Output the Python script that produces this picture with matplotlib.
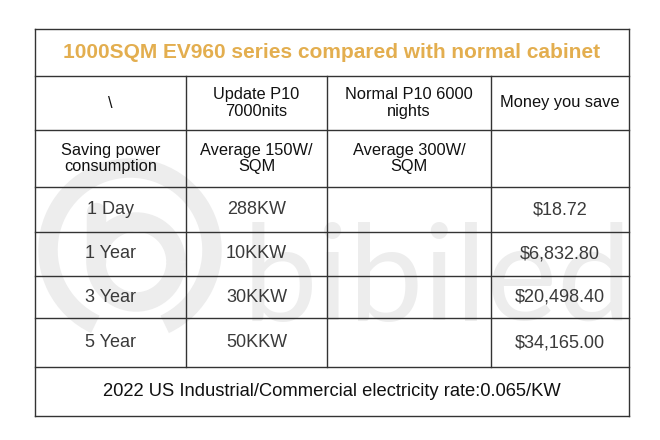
import matplotlib.pyplot as plt
from matplotlib.patches import Arc

plt.rcParams['font.family'] = ['Liberation Sans', 'DejaVu Sans']

title = "1000SQM EV960 series compared with normal cabinet"
header = ["\\", "Update P10\n7000nits", "Normal P10 6000\nnights", "Money you save"]
sub_header = ["Saving power\nconsumption", "Average 150W/\nSQM", "Average 300W/\nSQM", ""]
periods = ["1 Day", "1 Year", "3 Year", "5 Year"]
update_power = ["288KW", "10KKW", "30KKW", "50KKW"]
normal_power = ["", "", "", ""]
money_saved = ["$18.72", "$6,832.80", "$20,498.40", "$34,165.00"]
footer = "2022 US Industrial/Commercial electricity rate:0.065/KW"

# layout (pixels)
col_x = [35, 186, 327, 491, 629]
row_y = [29, 76, 130, 187, 232, 276, 318, 367, 416]

fig = plt.figure(figsize=(6.6, 4.4), dpi=100)
ax = fig.add_axes([0, 0, 1, 1])
ax.set_xlim(0, 660)
ax.set_ylim(440, 0)
ax.axis("off")

# watermark
wm = "#ededed"
ax.add_patch(Arc((130, 250), 164, 164, theta1=115, theta2=425, lw=14, color=wm, zorder=0))
ax.add_patch(Arc((136, 262), 80, 80, theta1=0, theta2=360, lw=14, color=wm, zorder=0))
ax.plot([96, 96], [212, 262], color=wm, lw=14, solid_capstyle="round", zorder=0)
ax.text(437, 320, "bibiled", fontsize=96, color=wm, family=["Lato", "DejaVu Sans"],
        ha="center", va="baseline", zorder=0)

line_kw = dict(color="#333333", lw=1.0, zorder=2)
for y in row_y:
    ax.plot([col_x[0], col_x[-1]], [y, y], **line_kw)
ax.plot([col_x[0], col_x[0]], [row_y[0], row_y[-1]], **line_kw)
ax.plot([col_x[-1], col_x[-1]], [row_y[0], row_y[-1]], **line_kw)
for x in col_x[1:-1]:
    ax.plot([x, x], [row_y[1], row_y[-2]], **line_kw)

def cx(i):
    return (col_x[i] + col_x[i + 1]) / 2

def cy(j):
    return (row_y[j] + row_y[j + 1]) / 2

ax.text((col_x[0] + col_x[-1]) / 2, cy(0), title, color="#e3ae4f", fontsize=15,
        fontweight="bold", ha="center", va="center")

hdr_kw = dict(fontsize=11.8, ha="center", va="center", linespacing=1.1)
for i, s in enumerate(header):
    ax.text(cx(i), cy(1), s, color="#111111", **hdr_kw)
for i, s in enumerate(sub_header):
    ax.text(cx(i), cy(2), s, color="#111111", **hdr_kw)

row_kw = dict(fontsize=13, ha="center", va="center")
for k in range(len(periods)):
    row = [periods[k], update_power[k], normal_power[k], money_saved[k]]
    for i, s in enumerate(row):
        ax.text(cx(i), cy(3 + k), s, color="#3a3a3a", **row_kw)

ax.text((col_x[0] + col_x[-1]) / 2, cy(7), footer, color="#111111", fontsize=13.2,
        ha="center", va="center")

fig.savefig("out.png", dpi=100, facecolor="white")
